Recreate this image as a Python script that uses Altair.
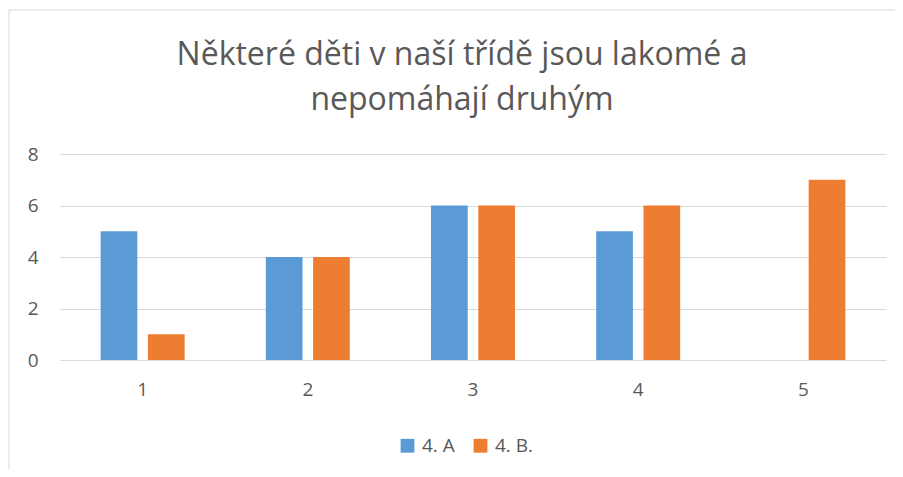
import altair as alt
import pandas as pd

categories = ["1", "2", "3", "4", "5"]
series_names = ["4. A", "4. B."]
values_a = [5, 4, 6, 5, None]
values_b = [1, 4, 6, 6, 7]
colors = ["#5B9BD5", "#ED7D31"]
title_lines = ["Některé děti v naší třídě jsou lakomé a", "nepomáhají druhým"]

rows = []
for c, a, b in zip(categories, values_a, values_b):
    rows.append({"kategorie": c, "trida": series_names[0], "hodnota": a})
    rows.append({"kategorie": c, "trida": series_names[1], "hodnota": b})
df = pd.DataFrame(rows)

FONT = "Open Sans"
GREY = "#595959"

bars = alt.Chart(df).mark_bar().encode(
    x=alt.X("kategorie:N", sort=categories, title=None,
            scale=alt.Scale(paddingInner=0.4915, paddingOuter=0.246),
            axis=alt.Axis(labelAngle=0, domain=False, ticks=False, tickSize=0,
                          labelPadding=20, labelFont=FONT, labelFontSize=19,
                          labelColor=GREY, grid=False)),
    xOffset=alt.XOffset("trida:N", sort=series_names,
                        scale=alt.Scale(paddingInner=0.224, paddingOuter=0)),
    y=alt.Y("hodnota:Q", title=None,
            scale=alt.Scale(domain=[0, 8]),
            axis=alt.Axis(values=[0, 2, 4, 6, 8], domain=False, ticks=False,
                          tickSize=0, labelPadding=22, labelFont=FONT,
                          labelFontSize=19, labelColor=GREY, grid=True,
                          gridColor="#D9D9D9", gridWidth=1)),
    color=alt.Color("trida:N", sort=series_names,
                    scale=alt.Scale(domain=series_names, range=colors),
                    legend=alt.Legend(title=None, orient="none", direction="horizontal",
                                      legendX=338, legendY=282,
                                      symbolType="square", symbolSize=190,
                                      symbolStrokeWidth=0, labelFont=FONT,
                                      labelFontSize=19, labelColor=GREY,
                                      labelOffset=5, columnPadding=16)),
)

border_df = pd.DataFrame({"k": [0]})
top_line = alt.Chart(border_df).mark_rule(color="#D9D9D9", strokeWidth=1, clip=False).encode(
    x=alt.value(-51), x2=alt.value(850), y=alt.value(-144))
left_line = alt.Chart(border_df).mark_rule(color="#D9D9D9", strokeWidth=1, clip=False).encode(
    x=alt.value(-51), y=alt.value(-144), y2=alt.value(330))

chart = alt.layer(bars, top_line, left_line).properties(
    width=826, height=206,
    padding={"left": 52, "top": 146, "right": 9, "bottom": 109},
    autosize=alt.AutoSizeParams(type="none"),
    title=alt.TitleParams(text=title_lines, font=FONT, fontSize=32,
                          fontWeight="normal", color=GREY, lineHeight=45,
                          anchor="middle", dx=-11, dy=144, offset=37),
).configure_view(stroke=None)

chart.save("out.html", embed_options={"renderer": "svg", "actions": False})
